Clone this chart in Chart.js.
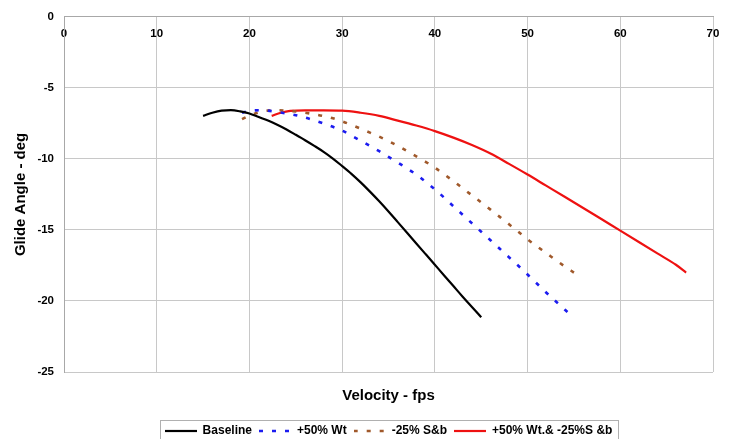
<!DOCTYPE html>
<html>
<head>
<meta charset="utf-8">
<script src="https://cdn.jsdelivr.net/npm/chart.js@4/dist/chart.umd.min.js"></script>
<style>
  html, body { margin: 0; padding: 0; background: #fff; }
  #wrap { width: 734px; height: 439px; position: relative; }
</style>
</head>
<body>
<div id="wrap"><canvas id="glideChart"></canvas></div>
<script>
// velocity (fps) vs glide angle (deg)
const baselineVel = [15, 16, 17, 18, 19, 20, 21, 22, 23, 24, 25, 26, 27, 28, 29, 30,
  31, 32, 33, 34, 35, 36, 37, 38, 39, 40, 41, 42, 43, 44, 45];
const baselineGlide = [-6.97, -6.75, -6.6, -6.57, -6.65, -6.8, -7.05, -7.3, -7.6, -7.93, -8.3,
  -8.68, -9.08, -9.5, -9.97, -10.5, -11.05, -11.65, -12.3, -12.98, -13.7, -14.45, -15.2,
  -15.95, -16.7, -17.45, -18.2, -18.95, -19.7, -20.42, -21.15];

const wtVel = [19.2, 20, 21, 22, 23, 24, 25, 26, 27, 28, 29, 30, 31, 32, 33, 34, 35, 36, 37,
  38, 39, 40, 41, 42, 43, 44, 45, 46, 47, 48, 49, 50, 51, 52, 53, 54, 55];
const wtGlide = [-6.75, -6.62, -6.57, -6.6, -6.7, -6.8, -6.92, -7.08, -7.28, -7.5, -7.74, -8.0,
  -8.36, -8.72, -9.08, -9.45, -9.85, -10.25, -10.67, -11.1, -11.6, -12.14, -12.72, -13.33,
  -13.93, -14.53, -15.12, -15.72, -16.32, -16.92, -17.52, -18.14, -18.77, -19.4, -20.0, -20.6, -21.2];

const sbVel = [19.2, 20, 21, 22, 23, 24, 25, 26, 27, 28, 29, 30, 31, 32, 33, 34, 35, 36, 37,
  38, 39, 40, 41, 42, 43, 44, 45, 46, 47, 48, 49, 50, 51, 52, 53, 54, 55];
const sbGlide = [-7.2, -6.95, -6.72, -6.6, -6.57, -6.6, -6.66, -6.75, -6.85, -6.98, -7.14, -7.35,
  -7.6, -7.87, -8.15, -8.43, -8.74, -9.08, -9.44, -9.82, -10.2, -10.62, -11.08, -11.56, -12.06,
  -12.56, -13.06, -13.57, -14.08, -14.6, -15.13, -15.66, -16.15, -16.62, -17.1, -17.56, -18.0];

const bothVel = [22.4, 23.4, 24.4, 26, 28, 30, 32, 34, 36, 38, 40, 42, 44, 46, 48, 50, 52, 54,
  56, 58, 60, 62, 64, 66, 67.1];
const bothGlide = [-6.97, -6.75, -6.62, -6.58, -6.58, -6.6, -6.75, -6.97, -7.3, -7.65, -8.04,
  -8.5, -9.02, -9.62, -10.35, -11.1, -11.88, -12.66, -13.45, -14.25, -15.05, -15.85, -16.65,
  -17.45, -18.0];

const seriesNames = ["Baseline", "+50% Wt", "-25% S&b", "+50% Wt.& -25%S &b"];
const xTicks = { min: 0, max: 70, step: 10 };
const yTicks = { min: -25, max: 0, step: 5 };

function toPoints(xs, ys) {
  return xs.map((x, i) => ({ x: x, y: ys[i] }));
}

// small line sample for the legend (keeps the dash pattern visible)
function lineSample(color, width, dash) {
  const c = document.createElement("canvas");
  c.width = 32;
  c.height = 6;
  const g = c.getContext("2d");
  g.strokeStyle = color;
  g.lineWidth = width;
  g.setLineDash(dash);
  g.beginPath();
  g.moveTo(0, 3);
  g.lineTo(32, 3);
  g.stroke();
  return c;
}

const gridColor = "#c8c8c8";
const tickFont = { family: "Liberation Sans, Arial", size: 11.5, weight: "bold" };

// thin frame round the legend, like the spreadsheet original
const legendFrame = {
  id: "legendFrame",
  afterDraw(chart) {
    const boxes = chart.legend && chart.legend.legendHitBoxes;
    if (!boxes || !boxes.length) return;
    const c = chart.ctx;
    const left = Math.min(...boxes.map(b => b.left)) - 5;
    const right = Math.max(...boxes.map(b => b.left + b.width)) + 5;
    const top = boxes[0].top - 5;
    const h = boxes[0].height + 11;
    c.save();
    c.strokeStyle = "#b0b0b0";
    c.lineWidth = 1;
    c.strokeRect(Math.round(left) + 0.5, Math.round(top) + 0.5, Math.round(right - left), h);
    c.restore();
  }
};

const ctx = document.getElementById("glideChart").getContext("2d");

new Chart(ctx, {
  type: "line",
  data: {
    datasets: [
      {
        label: seriesNames[0],
        data: toPoints(baselineVel, baselineGlide),
        borderColor: "#000000",
        borderWidth: 2.2
      },
      {
        label: seriesNames[1],
        data: toPoints(wtVel, wtGlide),
        borderColor: "#1c1cf0",
        borderWidth: 2.6,
        borderDash: [4, 9]
      },
      {
        label: seriesNames[2],
        data: toPoints(sbVel, sbGlide),
        borderColor: "#a0592b",
        borderWidth: 2.6,
        borderDash: [4, 9]
      },
      {
        label: seriesNames[3],
        data: toPoints(bothVel, bothGlide),
        borderColor: "#ee1111",
        borderWidth: 2.2
      }
    ]
  },
  options: {
    responsive: true,
    maintainAspectRatio: false,
    animation: false,
    layout: { padding: { top: 14, right: 21, left: 0, bottom: -8 } },
    elements: {
      point: { radius: 0 },
      line: { cubicInterpolationMode: "monotone", fill: false }
    },
    plugins: {
      tooltip: { enabled: false },
      title: {
        display: true,
        text: "Velocity - fps",
        position: "bottom",
        fullSize: false,
        weight: 500,
        color: "#000",
        font: { family: "Liberation Sans, Arial", size: 15, weight: "bold" },
        padding: { top: 15, bottom: 13 }
      },
      legend: {
        position: "bottom",
        fullSize: false,
        labels: {
          color: "#000",
          font: { family: "Liberation Sans, Arial", size: 12, weight: "bold" },
          usePointStyle: true,
          pointStyleWidth: 32,
          padding: 7,
          generateLabels(chart) {
            const items = Chart.defaults.plugins.legend.labels.generateLabels(chart);
            return items.map(item => {
              const ds = chart.data.datasets[item.datasetIndex];
              item.pointStyle = lineSample(ds.borderColor, ds.borderWidth, ds.borderDash || []);
              return item;
            });
          }
        }
      }
    },
    scales: {
      x: {
        type: "linear",
        position: { y: 0 },
        min: xTicks.min,
        max: xTicks.max,
        ticks: { stepSize: xTicks.step, color: "#000", font: tickFont, padding: 10 },
        grid: { color: gridColor, drawTicks: false },
        border: { color: "#a8a8a8" }
      },
      y: {
        type: "linear",
        min: yTicks.min,
        max: yTicks.max,
        ticks: { stepSize: yTicks.step, color: "#000", font: tickFont, padding: 10 },
        grid: { color: gridColor, drawTicks: false },
        border: { color: "#a8a8a8" },
        title: {
          display: true,
          text: "Glide Angle - deg",
          color: "#000",
          font: { family: "Liberation Sans, Arial", size: 15, weight: "bold" },
          padding: { top: 12, bottom: 0 }
        },
        afterFit(scale) {
          scale.width = 64;
        }
      }
    }
  },
  plugins: [legendFrame]
});
</script>
</body>
</html>
